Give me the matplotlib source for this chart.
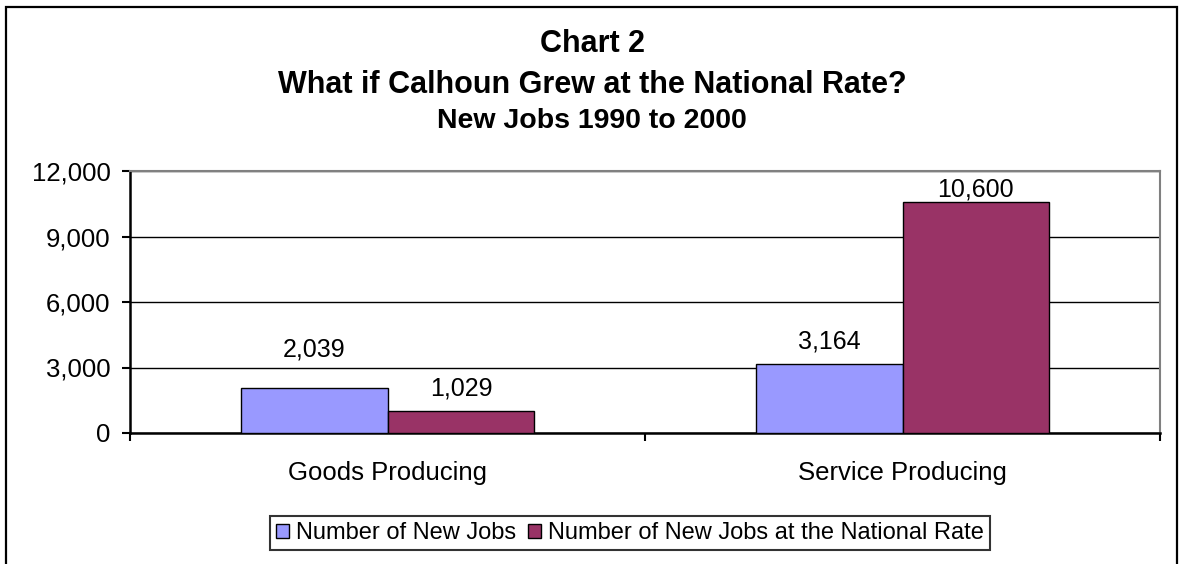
import matplotlib
matplotlib.use("Agg")
import matplotlib.pyplot as plt
from matplotlib.patches import Rectangle
from matplotlib.ticker import FuncFormatter
import numpy as np

plt.rcParams['font.family'] = ['Liberation Sans', 'DejaVu Sans']

categories = ["Goods Producing", "Service Producing"]
new_jobs = [2039, 3164]
national_rate = [1029, 10600]
series_names = ["Number of New Jobs", "Number of New Jobs at the National Rate"]
y_ticks = [0, 3000, 6000, 9000, 12000]
title_lines = ["Chart 2", "What if Calhoun Grew at the National Rate?", "New Jobs 1990 to 2000"]

W, H = 1179, 564
fig = plt.figure(figsize=(W / 100, H / 100), dpi=100)

# outer frame
fig.patches.append(Rectangle((6 / W, -0.05), (1177 - 6) / W, (H - 7) / H + 0.05,
                             transform=fig.transFigure, fill=False,
                             edgecolor='black', linewidth=1.6))

ax = fig.add_axes([130 / W, 1 - 433 / H, (1160 - 130) / W, (433 - 171) / H])

x = np.arange(len(categories))
bw = 0.285
b1 = ax.bar(x - bw, new_jobs, width=bw, align='edge', color='#9999FF',
            edgecolor='black', linewidth=1.0, zorder=3, label=series_names[0])
b2 = ax.bar(x, national_rate, width=bw, align='edge', color='#993366',
            edgecolor='black', linewidth=1.0, zorder=3, label=series_names[1])

ax.set_xlim(-0.5, len(categories) - 0.5)
ax.set_ylim(0, 12000)
ax.set_yticks(y_ticks)
ax.yaxis.set_major_formatter(FuncFormatter(lambda v, p: f"{int(v):,}"))
ax.yaxis.grid(True, color='black', linewidth=1.0, zorder=0)
ax.set_axisbelow(True)

ax.set_xticks(x)
ax.set_xticklabels(categories)
ax.set_xticks(np.arange(-0.5, len(categories), 1.0), minor=True)
ax.tick_params(axis='x', which='major', length=0, pad=20, labelsize=18.5)
ax.tick_params(axis='x', which='minor', length=6, width=1.5, direction='out')
ax.tick_params(axis='y', length=6, width=1.5, direction='out', pad=8, labelsize=18.5)

for s in ['top', 'right']:
    ax.spines[s].set_color('#808080')
    ax.spines[s].set_linewidth(1.5)
for s in ['left', 'bottom']:
    ax.spines[s].set_color('black')
    ax.spines[s].set_linewidth(1.8)

# value labels
offsets1 = [28, 16]
offsets2 = [16, 9]
for rect, v, off in zip(b1, new_jobs, offsets1):
    ax.annotate(f"{v:,}", (rect.get_x() + rect.get_width() / 2, v),
                xytext=(0, off), textcoords='offset points', ha='center',
                va='center', fontsize=18)
for rect, v, off in zip(b2, national_rate, offsets2):
    ax.annotate(f"{v:,}", (rect.get_x() + rect.get_width() / 2, v),
                xytext=(0, off), textcoords='offset points', ha='center',
                va='center', fontsize=18)

# titles
fig.text(592 / W, 1 - 44 / H, title_lines[0], ha='center', va='center',
         fontsize=22, fontweight='bold')
fig.text(592 / W, 1 - 85 / H, title_lines[1], ha='center', va='center',
         fontsize=22, fontweight='bold')
fig.text(592 / W, 1 - 121 / H, title_lines[2], ha='center', va='center',
         fontsize=20.5, fontweight='bold')

leg = fig.legend(handles=[b1, b2], labels=series_names, loc='center',
                 bbox_to_anchor=(630 / W, 1 - 533 / H), ncol=2, fontsize=17,
                 frameon=True, fancybox=False, edgecolor='black',
                 handlelength=0.55, handleheight=0.55, handletextpad=0.3,
                 columnspacing=0.5, borderpad=0.25, borderaxespad=0)
leg.get_frame().set_linewidth(1.5)

fig.savefig("out.png", dpi=100)
